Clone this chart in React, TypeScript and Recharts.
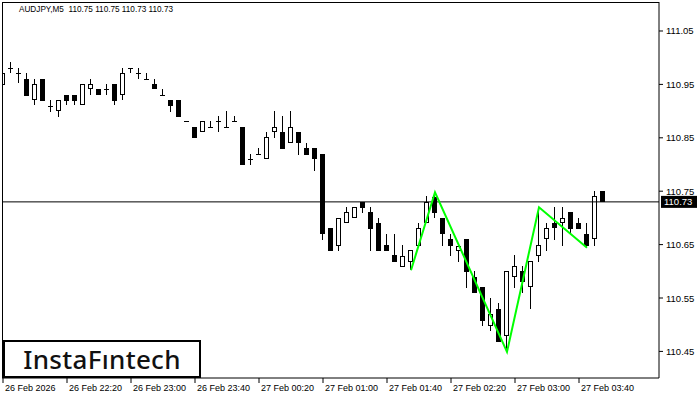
import React from 'react';
import { ComposedChart, Bar, Line, XAxis, YAxis, ReferenceLine } from 'recharts';

const FONT = 'Tahoma, "Liberation Sans", Arial, sans-serif';
const Y_MIN = 110.4002;
const Y_MAX = 111.1043;
const PLOT_H = 376;

const openPrices = [
  110.949, 110.981, 110.971, 110.960, 110.921, 110.960, 110.910, 110.900, 110.930, 110.930,
  110.911, 110.941, 110.941, 110.941, 110.951, 110.930, 110.981, 110.971, 110.960, 110.951,
  110.930, 110.921, 110.921, 110.881, 110.870, 110.861, 110.870, 110.881, 110.870, 110.881,
  110.870, 110.810, 110.820, 110.810, 110.861, 110.861, 110.840, 110.861, 110.831, 110.831,
  110.820, 110.681, 110.647, 110.690, 110.700, 110.730, 110.711, 110.690, 110.649, 110.630,
  110.608, 110.617, 110.647, 110.690, 110.739, 110.700, 110.660, 110.638, 110.660, 110.589,
  110.571, 110.498, 110.529, 110.479, 110.589, 110.601, 110.571, 110.629, 110.660, 110.690,
  110.690, 110.711, 110.690, 110.670, 110.660, 110.750,
];
const highPrices = [
  110.971, 110.992, 110.981, 110.971, 110.960, 110.960, 110.921, 110.921, 110.930, 110.930,
  110.951, 110.960, 110.941, 110.951, 110.951, 110.981, 110.981, 110.981, 110.971, 110.960,
  110.941, 110.921, 110.921, 110.881, 110.870, 110.881, 110.881, 110.891, 110.900, 110.891,
  110.870, 110.820, 110.831, 110.861, 110.900, 110.891, 110.900, 110.861, 110.840, 110.831,
  110.820, 110.681, 110.700, 110.720, 110.720, 110.730, 110.720, 110.700, 110.670, 110.670,
  110.649, 110.640, 110.690, 110.741, 110.747, 110.700, 110.670, 110.647, 110.660, 110.601,
  110.571, 110.550, 110.541, 110.601, 110.630, 110.610, 110.619, 110.715, 110.690, 110.720,
  110.720, 110.711, 110.700, 110.690, 110.750, 110.750,
];
const lowPrices = [
  110.941, 110.971, 110.953, 110.928, 110.911, 110.919, 110.898, 110.889, 110.911, 110.911,
  110.911, 110.930, 110.930, 110.930, 110.911, 110.921, 110.971, 110.960, 110.960, 110.941,
  110.930, 110.898, 110.889, 110.880, 110.850, 110.861, 110.870, 110.861, 110.870, 110.881,
  110.799, 110.799, 110.820, 110.810, 110.850, 110.829, 110.840, 110.818, 110.818, 110.788,
  110.659, 110.638, 110.638, 110.690, 110.700, 110.709, 110.638, 110.638, 110.638, 110.617,
  110.608, 110.602, 110.647, 110.690, 110.700, 110.647, 110.629, 110.617, 110.569, 110.559,
  110.498, 110.488, 110.468, 110.449, 110.569, 110.559, 110.529, 110.617, 110.638, 110.659,
  110.647, 110.670, 110.679, 110.644, 110.647, 110.730,
];
const closePrices = [
  110.971, 110.981, 110.971, 110.928, 110.951, 110.919, 110.910, 110.921, 110.919, 110.919,
  110.951, 110.951, 110.930, 110.941, 110.919, 110.971, 110.981, 110.971, 110.960, 110.941,
  110.930, 110.910, 110.889, 110.881, 110.850, 110.881, 110.870, 110.881, 110.870, 110.881,
  110.799, 110.810, 110.820, 110.851, 110.870, 110.829, 110.870, 110.840, 110.818, 110.810,
  110.670, 110.638, 110.700, 110.711, 110.720, 110.719, 110.679, 110.638, 110.638, 110.617,
  110.629, 110.640, 110.681, 110.730, 110.709, 110.670, 110.647, 110.647, 110.599, 110.559,
  110.507, 110.520, 110.468, 110.601, 110.610, 110.580, 110.619, 110.649, 110.681, 110.681,
  110.700, 110.679, 110.679, 110.647, 110.741, 110.730,
];

// pattern pivots (candle index, price)
const patternIdx = [51, 54, 63, 67, 73];
const patternVal = [110.602, 110.748, 110.449, 110.720, 110.644];

const xTicks = [0, 8, 16, 24, 32, 40, 48, 56, 64, 72];
const xLabels = [
  '26 Feb 2026', '26 Feb 22:20', '26 Feb 23:00', '26 Feb 23:40', '27 Feb 00:20',
  '27 Feb 01:00', '27 Feb 01:40', '27 Feb 02:20', '27 Feb 03:00', '27 Feb 03:40',
];
const yTicks = [110.45, 110.55, 110.65, 110.75, 110.85, 110.95, 111.05];
const lastPrice = 110.73;

const data = openPrices.map((o, i) => {
  const p = patternIdx.indexOf(i);
  return {
    i,
    open: o,
    high: highPrices[i],
    low: lowPrices[i],
    close: closePrices[i],
    pattern: p >= 0 ? patternVal[p] : null,
  };
});

const Candle = (props: any) => {
  const { x, y, width, payload } = props;
  if (x == null || y == null) return null;
  const k = PLOT_H / (Y_MAX - Y_MIN);
  const px = Math.floor(x + width / 2);
  const yH = Math.round(y);
  const yL = Math.round(y + (payload.high - payload.low) * k);
  const yO = Math.round(y + (payload.high - payload.open) * k);
  const yC = Math.round(y + (payload.high - payload.close) * k);
  const top = Math.min(yO, yC);
  const bot = Math.max(yO, yC);
  let body;
  if (bot - top <= 1) {
    body = <rect x={px - 2} y={top} width={5} height={1} fill="#000" />;
  } else if (payload.close > payload.open) {
    body = <rect x={px - 1.5} y={top + 0.5} width={4} height={bot - top - 1} fill="#fff" stroke="#000" strokeWidth={1} />;
  } else {
    body = <rect x={px - 2} y={top} width={5} height={bot - top} fill="#000" />;
  }
  return (
    <g>
      <line x1={px + 0.5} x2={px + 0.5} y1={yH} y2={Math.max(yL, yH + 1)} stroke="#000" strokeWidth={1} />
      {body}
    </g>
  );
};

const XTick = (props: any) => {
  const { x, y, payload } = props;
  const idx = xTicks.indexOf(payload.value);
  return (
    <text x={x + 2} y={y + 6} textAnchor="start" fontSize={9} fontFamily={FONT} fill="#000">
      {xLabels[idx]}
    </text>
  );
};

const YTick = (props: any) => {
  const { x, y, payload } = props;
  return (
    <text x={x} y={y + 3.5} textAnchor="start" fontSize={9.5} fontFamily={FONT} fill="#000">
      {Number(payload.value).toFixed(2)}
    </text>
  );
};

const PriceTag = (props: any) => {
  const { viewBox } = props;
  if (!viewBox) return null;
  const bx = viewBox.x + viewBox.width + 2;
  return (
    <g>
      <rect x={bx} y={viewBox.y - 6} width={36} height={12} fill="#000" />
      <text x={bx + 3} y={viewBox.y + 3.5} fontSize={9.5} fontFamily={FONT} fill="#fff">
        {lastPrice.toFixed(2)}
      </text>
    </g>
  );
};

export default function App() {
  return (
    <div style={{ position: 'absolute', left: 0, top: 0, width: 700, height: 400, background: '#fff' }}>
      <ComposedChart width={700} height={400} data={data} margin={{ top: 2, right: 0, left: 2, bottom: 0 }}>
        <XAxis
          dataKey="i"
          type="number"
          domain={[-0.125, 82]}
          ticks={xTicks}
          tick={<XTick />}
          tickSize={5}
          tickLine={{ stroke: '#000' }}
          axisLine={{ stroke: '#000' }}
          height={22}
          allowDataOverflow
          interval={0}
        />
        <YAxis
          orientation="right"
          domain={[Y_MIN, Y_MAX]}
          ticks={yTicks}
          tick={<YTick />}
          tickSize={4}
          tickMargin={3}
          tickLine={{ stroke: '#000' }}
          axisLine={{ stroke: '#000' }}
          width={41}
          allowDataOverflow
          interval={0}
        />
        <ReferenceLine y={lastPrice} stroke="#000" strokeWidth={1} label={<PriceTag />} />
        <Bar
          dataKey={(d: any) => [d.low, d.high]}
          barSize={5}
          shape={<Candle />}
          isAnimationActive={false}
        />
        <Line
          dataKey="pattern"
          stroke="#00FF00"
          strokeWidth={2}
          dot={false}
          connectNulls
          isAnimationActive={false}
        />
      </ComposedChart>
      <div
        style={{
          position: 'absolute', left: 2, top: 2, width: 657, height: 376,
          borderLeft: '1px solid #000', borderTop: '1px solid #000', boxSizing: 'border-box', pointerEvents: 'none',
        }}
      />
      <div style={{ position: 'absolute', left: 19, top: 5, fontSize: 8.2, fontFamily: FONT, color: '#000', whiteSpace: 'pre' }}>
        AUDJPY,M5  110.75 110.75 110.73 110.73
      </div>
      <div
        style={{
          position: 'absolute', left: 3, top: 340, width: 198, height: 38, boxSizing: 'border-box',
          border: '2px solid #000', background: '#fff', display: 'flex', alignItems: 'center', justifyContent: 'center',
          fontFamily: '"Noto Sans", sans-serif', fontSize: 26, fontWeight: 500, color: '#111', letterSpacing: 0.3,
        }}
      >
        InstaFıntech
      </div>
    </div>
  );
}
